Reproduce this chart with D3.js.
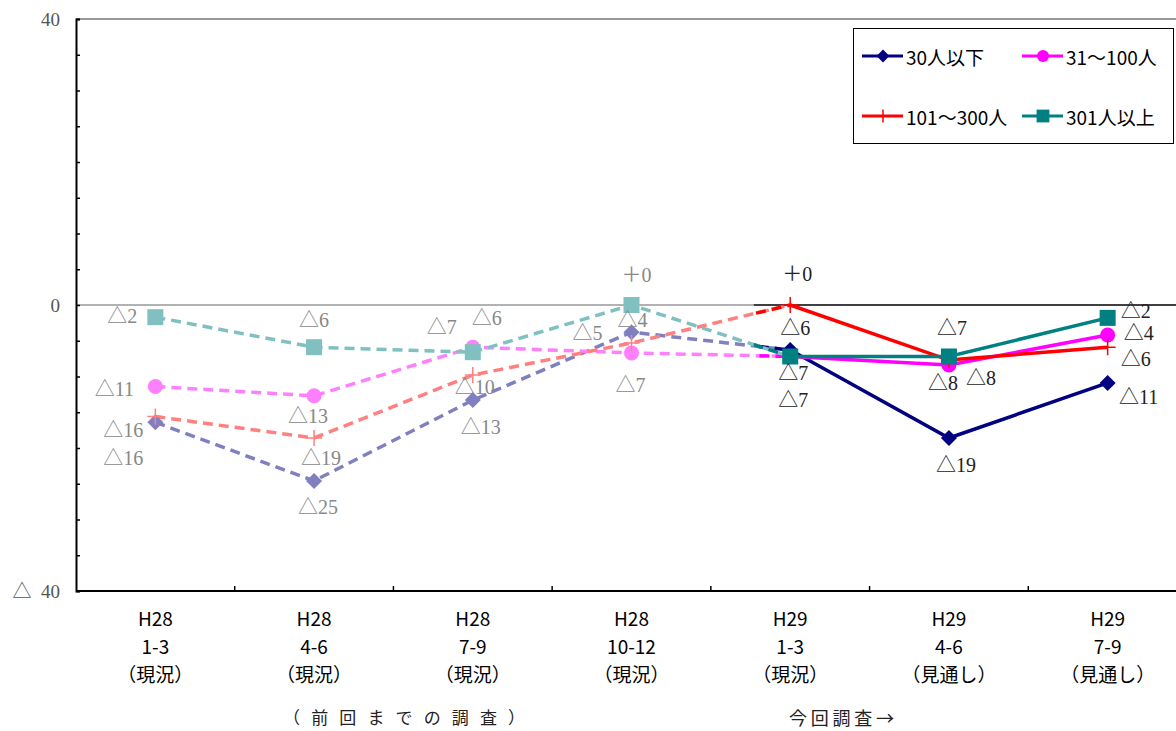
<!DOCTYPE html>
<html>
<head>
<meta charset="utf-8">
<script src="https://cdn.jsdelivr.net/npm/d3@7"></script>
<style>
  html, body { margin: 0; padding: 0; background: #fff; }
  svg { display: block; }
</style>
</head>
<body>
<script>
// ---------------- data ----------------
const yearLabels   = ["H28", "H28", "H28", "H28", "H29", "H29", "H29"];
const periodLabels = ["1-3", "4-6", "7-9", "10-12", "1-3", "4-6", "7-9"];
const statusLabels = ["（現況）", "（現況）", "（現況）", "（現況）", "（現況）", "（見通し）", "（見通し）"];
const categories = yearLabels.map((y, i) => y + " " + periodLabels[i]);

const seriesNames = ["30人以下", "31～100人", "101～300人", "301人以上"];
const s30     = [-16.4, -24.6, -13.3, -3.8, -6.3, -18.6, -10.9];
const s31_100 = [-11.4, -12.7, -5.9, -6.7, -7.2, -8.4, -4.2];
const s101_300= [-15.6, -18.6, -9.8, -5.3, 0, -7.7, -5.9];
const s301    = [-1.7, -5.9, -6.6, 0, -7.2, -7.2, -1.8];
const seriesValues = [s30, s31_100, s101_300, s301];

const yTickValues = [-40, -35, -30, -25, -20, -15, -10, -5, 0, 5, 10, 15, 20, 25, 30, 35, 40];
const yTickLabels = { "40": "40", "0": "0", "-40": "△  40" };
const prevSurveyNote = "（前回までの調査）";
const currSurveyNote = "今回調査→";
const lastPrevIndex = 3;   // H28 10-12 = last point of previous survey

// ---------------- layout / style ----------------
const W = 1176, H = 731;
const plot = { left: 76, right: 1187, top: 19, bottom: 591 };
const darkColors  = ["#000080", "#ff00ff", "#ff0000", "#008080"];
const lightColors = ["#8080c0", "#ff80ff", "#ff8080", "#80c0c0"];
const markerTypes = ["diamond", "circle", "plus", "square"];
const splitFrac = 0.77;
const serifFont = "'Liberation Serif', 'Noto Sans CJK JP', serif";
const sansFont = "'Noto Sans CJK JP', sans-serif";
// label offsets [dx, dy] relative to each point
const labelOffsets = [
  [[-32, 36], [4, 26], [8, 27], [1, -12], [5, -22], [7, 27], [31, 14]],
  [[-41, 2], [-6, 20], [14, -29], [-1, 32], [3, 44], [-6, 18], [31, -2]],
  [[-32, 13], [7, 20], [2, 12], [-44, -10], [7, -31], [32, 18], [28, 12]],
  [[-33, -1], [0, -27], [-31, -25], [5, -30], [3, 17], [3, -28], [28, -7]]
];

const svg = d3.select("body").append("svg").attr("width", W).attr("height", H);

const x = d3.scaleBand().domain(categories).range([plot.left, plot.right]);
const cx = c => x(c) + x.bandwidth() / 2;
const y = d3.scaleLinear().domain([-40, 40]).range([plot.bottom, plot.top]);
const xSplit = cx(categories[lastPrevIndex]) + splitFrac * x.step();

svg.append("defs").append("clipPath").attr("id", "newPart")
  .append("rect").attr("x", xSplit).attr("y", 0).attr("width", W).attr("height", H);

// top border
svg.append("line").attr("x1", plot.left).attr("x2", plot.right)
  .attr("y1", y(40)).attr("y2", y(40)).attr("stroke", "#999").attr("stroke-width", 2);

// zero line: gray for previous survey, black for current
svg.append("line").attr("x1", plot.left).attr("x2", xSplit)
  .attr("y1", y(0)).attr("y2", y(0)).attr("stroke", "#999").attr("stroke-width", 1.5);
svg.append("line").attr("x1", xSplit).attr("x2", plot.right)
  .attr("y1", y(0)).attr("y2", y(0)).attr("stroke", "#000").attr("stroke-width", 1.5);

// y axis
const yAxis = d3.axisLeft(y).tickValues(yTickValues).tickSize(-4).tickPadding(16)
  .tickFormat(v => yTickLabels[String(v)] || "");
const gy = svg.append("g").attr("transform", `translate(${plot.left},0)`).call(yAxis);
gy.select(".domain").attr("stroke", "#000").attr("stroke-width", 2);
gy.selectAll(".tick line").attr("stroke", "#000").attr("stroke-width", 1.5);
gy.selectAll(".tick text").attr("fill", "#555").style("white-space", "pre")
  .attr("font-family", serifFont).attr("font-size", 19);

// x axis
const gx = svg.append("g");
gx.append("line").attr("x1", plot.left).attr("x2", plot.right)
  .attr("y1", plot.bottom).attr("y2", plot.bottom).attr("stroke", "#000").attr("stroke-width", 2);
gx.selectAll("line.tk").data(categories.slice(1)).join("line").attr("class", "tk")
  .attr("x1", d => x(d)).attr("x2", d => x(d))
  .attr("y1", plot.bottom).attr("y2", plot.bottom - 5)
  .attr("stroke", "#000").attr("stroke-width", 1.5);
const catText = gx.selectAll("text.cat").data(categories).join("text").attr("class", "cat")
  .attr("font-family", sansFont).attr("font-size", 19)
  .attr("fill", "#000").attr("text-anchor", "middle");
catText.append("tspan").attr("x", d => cx(d)).attr("y", 626).text((d, i) => yearLabels[i]);
catText.append("tspan").attr("x", d => cx(d)).attr("y", 654).text((d, i) => periodLabels[i]);
catText.append("tspan").attr("x", d => cx(d)).attr("y", 682).text((d, i) => statusLabels[i]);

// notes
svg.append("text").attr("x", 283).attr("y", 724)
  .attr("textLength", 242).attr("lengthAdjust", "spacing")
  .attr("font-family", sansFont).attr("font-size", 17).attr("fill", "#222")
  .text(prevSurveyNote);
svg.append("text").attr("x", 789).attr("y", 725)
  .attr("textLength", 105).attr("lengthAdjust", "spacing")
  .attr("font-family", sansFont).attr("font-size", 18).attr("fill", "#222")
  .text(currSurveyNote);

// marker helper
function drawMarker(g, type, px, py, color, scale) {
  const s = scale || 1;
  if (type === "diamond") {
    const h = 8 * s;
    g.append("path").attr("d", `M${px},${py - h}L${px + h},${py}L${px},${py + h}L${px - h},${py}Z`).attr("fill", color);
  } else if (type === "circle") {
    g.append("circle").attr("cx", px).attr("cy", py).attr("r", 7.5 * s).attr("fill", color);
  } else if (type === "square") {
    const h = 8 * s;
    g.append("rect").attr("x", px - h).attr("y", py - h).attr("width", 2 * h).attr("height", 2 * h).attr("fill", color);
  } else if (type === "plus") {
    const h = 8 * s;
    g.append("path").attr("d", `M${px - h},${py}H${px + h}M${px},${py - h}V${py + h}`)
      .attr("stroke", color).attr("stroke-width", 1.5).attr("fill", "none");
  }
}

const line = d3.line().x(d => cx(d.c)).y(d => y(d.v));
const gLines = svg.append("g");
seriesValues.forEach((vals, si) => {
  const pts = vals.map((v, i) => ({ c: categories[i], v }));
  const oldPts = pts.slice(0, lastPrevIndex + 2);
  const newPts = pts.slice(lastPrevIndex + 1);
  const g = gLines.append("g");
  g.append("path").datum(oldPts).attr("d", line).attr("fill", "none")
    .attr("stroke", lightColors[si]).attr("stroke-width", 3.5).attr("stroke-dasharray", "10,6");
  g.append("path").datum(pts.slice(lastPrevIndex, lastPrevIndex + 2)).attr("d", line).attr("fill", "none")
    .attr("clip-path", "url(#newPart)")
    .attr("stroke", darkColors[si]).attr("stroke-width", 3.5).attr("stroke-dasharray", "10,6");
  g.append("path").datum(newPts).attr("d", line).attr("fill", "none")
    .attr("stroke", darkColors[si]).attr("stroke-width", 3.5);
});
seriesValues.forEach((vals, si) => {
  const g = gLines.append("g");
  vals.forEach((v, i) => {
    const col = i <= lastPrevIndex ? lightColors[si] : darkColors[si];
    drawMarker(g, markerTypes[si], cx(categories[i]), y(v), col);
  });
});

// data labels
const fmt = v => { const r = Math.round(v); return r === 0 ? "＋0" : (r < 0 ? "△" + Math.abs(r) : "＋" + r); };
const gLab = svg.append("g").attr("font-family", serifFont)
  .attr("font-size", 20).attr("text-anchor", "middle").attr("dominant-baseline", "central");
seriesValues.forEach((vals, si) => {
  vals.forEach((v, i) => {
    const off = labelOffsets[si][i];
    gLab.append("text").attr("x", cx(categories[i]) + off[0]).attr("y", y(v) + off[1])
      .attr("fill", i <= lastPrevIndex ? "#888" : "#222").text(fmt(v));
  });
});

// legend
const lg = svg.append("g");
lg.append("rect").attr("x", 853.5).attr("y", 28.5).attr("width", 320).attr("height", 115)
  .attr("fill", "#fff").attr("stroke", "#000").attr("stroke-width", 1);
const legPos = [[862, 56], [1022, 56], [862, 116], [1022, 116]];
seriesNames.forEach((name, si) => {
  const [lx, ly] = legPos[si];
  lg.append("line").attr("x1", lx).attr("x2", lx + 41).attr("y1", ly).attr("y2", ly)
    .attr("stroke", darkColors[si]).attr("stroke-width", 3);
  drawMarker(lg, markerTypes[si], lx + 21, ly, darkColors[si], 0.8);
  lg.append("text").attr("x", lx + 44).attr("y", ly).attr("dominant-baseline", "central")
    .attr("font-family", sansFont).attr("font-size", 19).attr("fill", "#000")
    .text(name);
});
</script>
</body>
</html>
